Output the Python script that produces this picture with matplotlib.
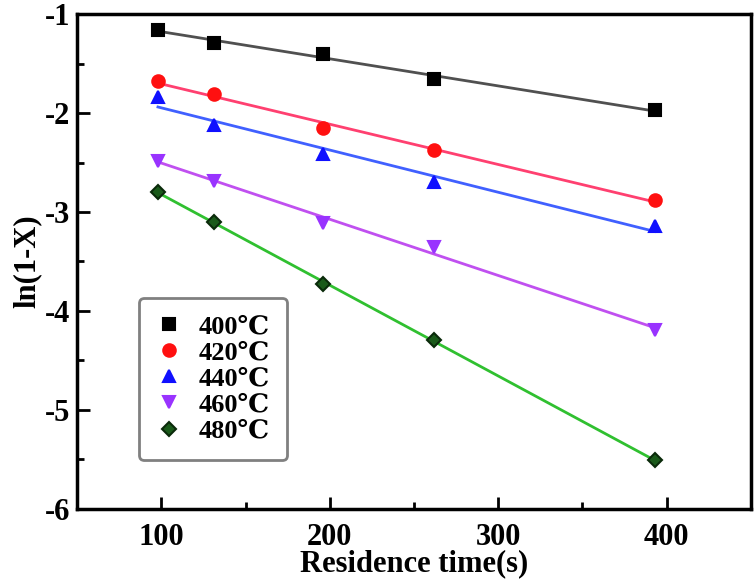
import matplotlib
matplotlib.use('Agg')
import matplotlib.pyplot as plt
import numpy as np
from matplotlib.ticker import MultipleLocator

# residence time (s) and ln(1-X)
time_s = [98, 131, 196, 262, 393]
temps = ['400℃', '420℃', '440℃', '460℃', '480℃']
ln_400 = [-1.16, -1.29, -1.40, -1.66, -1.97]
ln_420 = [-1.68, -1.81, -2.15, -2.37, -2.88]
ln_440 = [-1.84, -2.12, -2.41, -2.70, -3.14]
ln_460 = [-2.48, -2.69, -3.11, -3.35, -4.19]
ln_480 = [-2.80, -3.10, -3.73, -4.29, -5.51]

series = [ln_400, ln_420, ln_440, ln_460, ln_480]
markers = ['s', 'o', '^', 'v', 'D']
mface = ['black', '#ff1010', '#1010ff', '#9933ff', '#1a5a1a']
medge = ['black', '#ff1010', '#1010ff', '#9933ff', '#0a2a0a']
msize = [8, 9, 9, 9, 7]
line_colors = ['#505050', '#ff4070', '#4060ff', '#c050f0', '#30c030']

serif = ['Liberation Serif', 'DejaVu Serif']
plt.rcParams['font.family'] = serif
plt.rcParams['font.weight'] = 'bold'
plt.rcParams['axes.unicode_minus'] = False

fig = plt.figure(figsize=(7.56, 5.85), dpi=100)
ax = fig.add_axes([0.102, 0.130, 0.891, 0.846])

x = np.array(time_s, dtype=float)
for i, y in enumerate(series):
    # linear fit for each temperature
    k, b = np.polyfit(x, y, 1)
    ax.plot([x[0], x[-1]], [k * x[0] + b, k * x[-1] + b],
            color=line_colors[i], lw=2, zorder=2)
    ax.plot(x, y, linestyle='none', marker=markers[i], ms=msize[i],
            mfc=mface[i], mec=medge[i], mew=1.5, label=temps[i], zorder=3)

ax.set_xlim(50, 450)
ax.set_ylim(-6, -1)
ax.xaxis.set_major_locator(MultipleLocator(100))
ax.xaxis.set_minor_locator(MultipleLocator(50))
ax.yaxis.set_major_locator(MultipleLocator(1))
ax.yaxis.set_minor_locator(MultipleLocator(0.5))
ax.tick_params(which='both', direction='in', width=2, labelsize=22)
ax.tick_params(which='major', length=9)
ax.tick_params(which='minor', length=5)
ax.tick_params(axis='x', pad=10)
ax.tick_params(axis='y', pad=5)
for sp in ax.spines.values():
    sp.set_linewidth(2.5)

ax.set_xlabel('Residence time(s)', fontsize=22, fontweight='bold', labelpad=-2)
ax.set_ylabel('ln(1-X)', fontsize=22, fontweight='bold', labelpad=2)

leg = ax.legend(loc='lower left', bbox_to_anchor=(0.092, 0.099),
                prop={'family': serif, 'weight': 'bold', 'size': 19},
                frameon=True, fancybox=True, edgecolor='#606060',
                handlelength=1.0, handletextpad=0.6, labelspacing=0.1,
                borderpad=0.65, borderaxespad=0)
leg.get_frame().set_linewidth(2)

fig.savefig('out.png', dpi=100)
